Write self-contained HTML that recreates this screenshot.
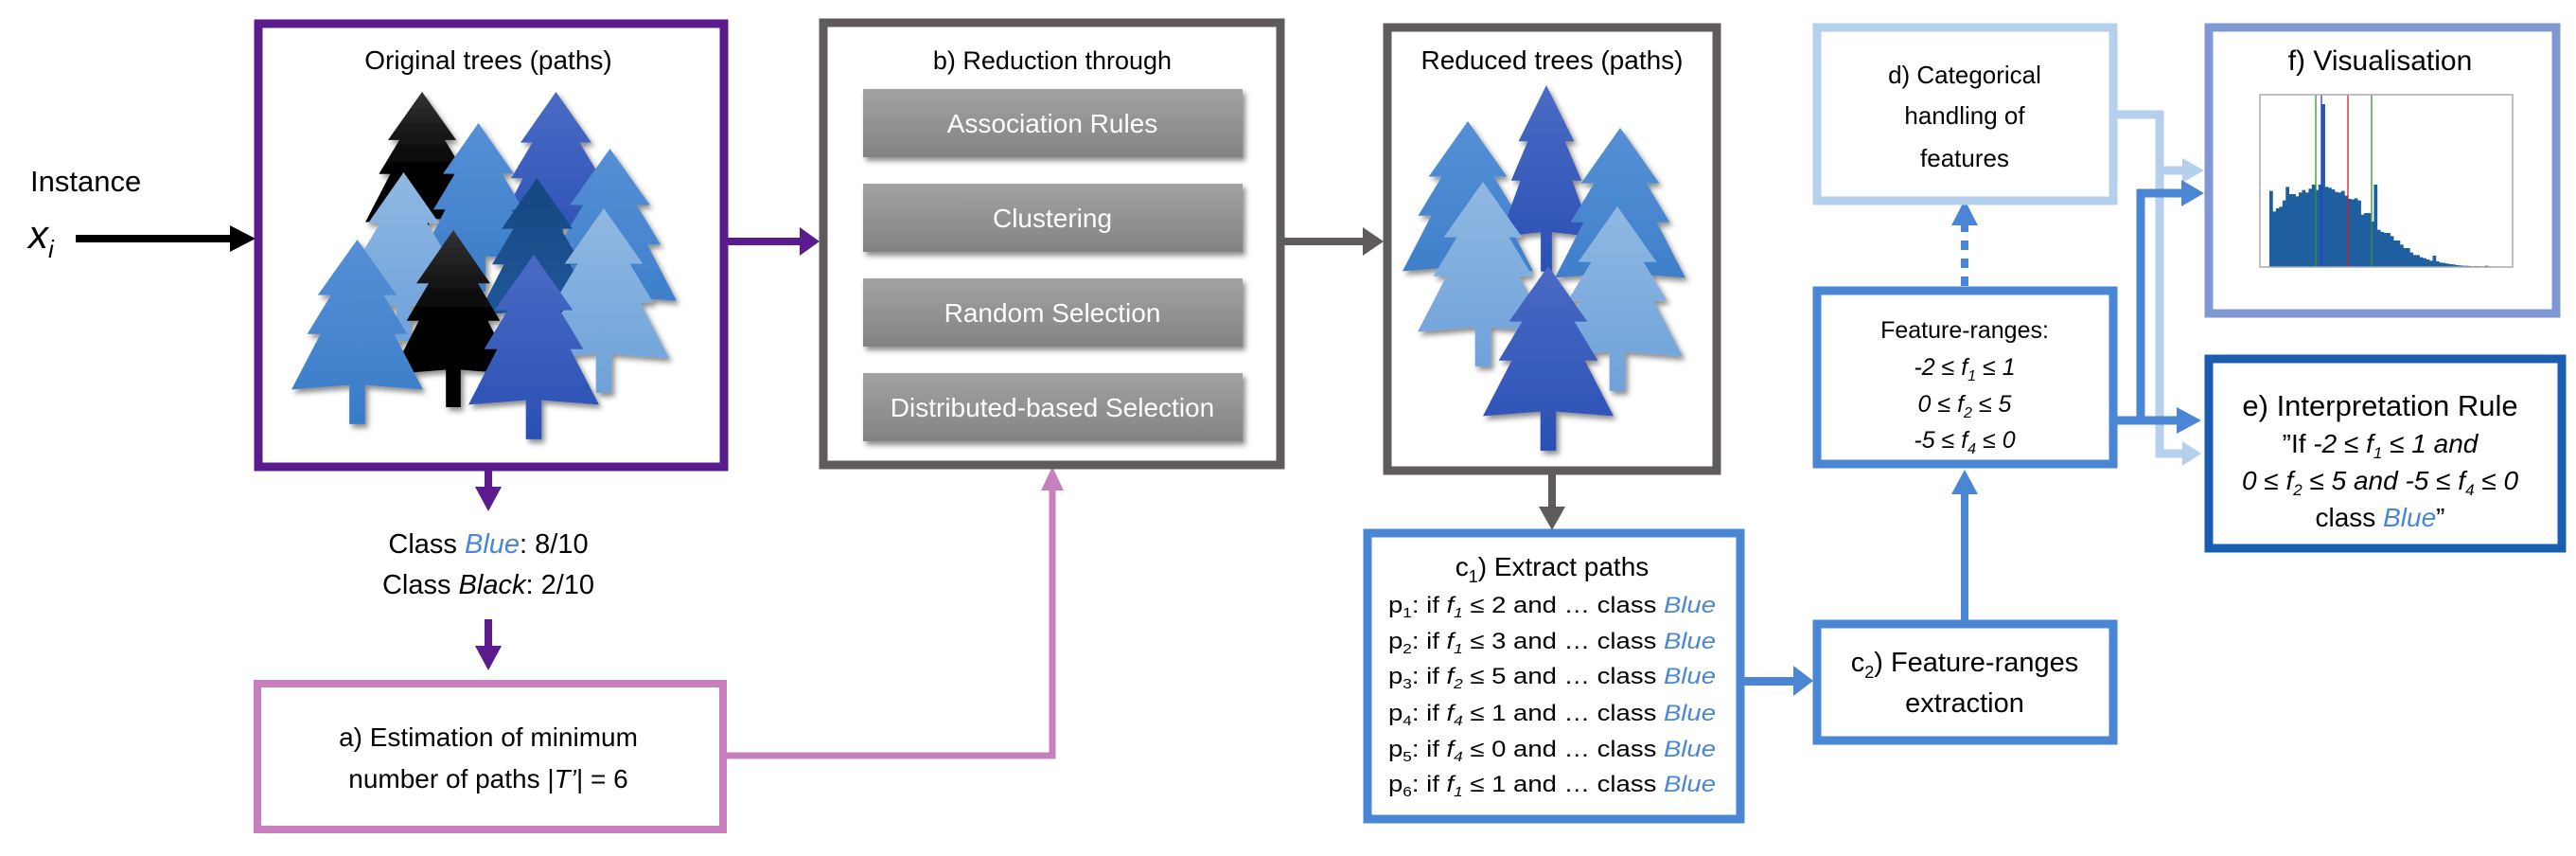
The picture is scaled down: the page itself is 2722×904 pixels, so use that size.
<!DOCTYPE html>
<html><head><meta charset="utf-8"><style>
html,body{margin:0;padding:0;background:#fff;}
svg{display:block;font-family:"Liberation Sans",sans-serif;}
</style></head><body>
<svg id="s" width="2722" height="904" viewBox="0 0 2722 904" xmlns="http://www.w3.org/2000/svg">
<defs>
<symbol id="tree" viewBox="0 0 100 125" preserveAspectRatio="none">
<polygon points="50,0 20,37 30,37 12,63 22,63 0,100 44,97 44,123 56,123 56,97 100,100 78,63 88,63 70,37 80,37"/>
</symbol>
<linearGradient id="gBlack" x1="0" y1="0" x2="0" y2="1"><stop offset="0" stop-color="#333"/><stop offset=".5" stop-color="#000"/></linearGradient>
<linearGradient id="gBlue" x1="0" y1="0" x2="0" y2="1"><stop offset="0" stop-color="#5590d6"/><stop offset="1" stop-color="#3a7cc8"/></linearGradient>
<linearGradient id="gRoyal" x1="0" y1="0" x2="0" y2="1"><stop offset="0" stop-color="#4a6ac4"/><stop offset="1" stop-color="#2a50b4"/></linearGradient>
<linearGradient id="gLight" x1="0" y1="0" x2="0" y2="1"><stop offset="0" stop-color="#90b8e2"/><stop offset="1" stop-color="#6ea2da"/></linearGradient>
<linearGradient id="gNavy" x1="0" y1="0" x2="0" y2="1"><stop offset="0" stop-color="#174782"/><stop offset="1" stop-color="#1f5a9e"/></linearGradient>
<linearGradient id="gBtn" x1="0" y1="0" x2="0" y2="1"><stop offset="0" stop-color="#a2a2a2"/><stop offset="1" stop-color="#838383"/></linearGradient>
<filter id="sh" x="-10%" y="-10%" width="130%" height="130%"><feDropShadow dx="3" dy="4" stdDeviation="3" flood-opacity=".45"/></filter>
</defs>

<!-- Instance -->
<text x="32" y="202" font-size="31">Instance</text>
<text x="30" y="262" font-size="42" font-style="italic">x<tspan font-size="26" dy="10">i</tspan></text>
<rect x="80" y="248" width="165" height="8" fill="#000"/>
<polygon points="243,238 270,252 243,266" fill="#000"/>

<!-- Original trees box -->
<rect x="273" y="25" width="492" height="468" fill="#fff" stroke="#5b1a8e" stroke-width="9"/>
<text x="516" y="73" font-size="28" text-anchor="middle">Original trees (paths)</text>
<g filter="url(#sh)">
<use href="#tree" x="386" y="97" width="120" height="172" fill="url(#gBlack)"/>
<use href="#tree" x="525" y="97" width="125" height="181" fill="url(#gRoyal)"/>
<use href="#tree" x="443" y="130" width="125" height="181" fill="url(#gBlue)"/>
<use href="#tree" x="574" y="157" width="141" height="201" fill="url(#gBlue)"/>
<use href="#tree" x="364" y="182" width="125" height="181" fill="url(#gLight)"/>
<use href="#tree" x="505" y="188" width="125" height="181" fill="url(#gNavy)"/>
<use href="#tree" x="569" y="220" width="138" height="198" fill="url(#gLight)"/>
<use href="#tree" x="414" y="243" width="130" height="190" fill="url(#gBlack)"/>
<use href="#tree" x="308" y="253" width="139" height="198" fill="url(#gBlue)"/>
<use href="#tree" x="495" y="269" width="138" height="198" fill="url(#gRoyal)"/>
</g>

<!-- purple arrows -->
<rect x="765" y="251" width="82" height="8" fill="#5b1a8e"/>
<polygon points="845,240 866,255 845,270" fill="#5b1a8e"/>
<rect x="512" y="493" width="8" height="27" fill="#5b1a8e"/>
<polygon points="502,514 530,514 516,540" fill="#5b1a8e"/>
<text x="516" y="584" font-size="29" text-anchor="middle">Class <tspan fill="#4a86d4" font-style="italic">Blue</tspan>: 8/10</text>
<text x="516" y="627" font-size="29" text-anchor="middle">Class <tspan font-style="italic">Black</tspan>: 2/10</text>
<rect x="512" y="654" width="8" height="32" fill="#5b1a8e"/>
<polygon points="502,682 530,682 516,708" fill="#5b1a8e"/>

<!-- a box -->
<rect x="272" y="722" width="492" height="154" fill="#fff" stroke="#c87fbd" stroke-width="8"/>
<text x="516" y="788" font-size="28" text-anchor="middle">a) Estimation of minimum</text>
<text x="516" y="832" font-size="28" text-anchor="middle">number of paths |<tspan font-style="italic">T’</tspan>| = 6</text>
<polyline points="768,798 1112,798 1112,515" fill="none" stroke="#c87fbd" stroke-width="7"/>
<polygon points="1100,518 1124,518 1112,493" fill="#c87fbd"/>

<!-- b box -->
<rect x="870" y="24" width="483" height="467" fill="#fff" stroke="#5f5b5b" stroke-width="9"/>
<text x="1112" y="73" font-size="27" text-anchor="middle">b) Reduction through</text>
<g filter="url(#sh)">
<rect x="912" y="94" width="401" height="72" fill="url(#gBtn)"/>
<rect x="912" y="194" width="401" height="72" fill="url(#gBtn)"/>
<rect x="912" y="294" width="401" height="72" fill="url(#gBtn)"/>
<rect x="912" y="394" width="401" height="72" fill="url(#gBtn)"/>
</g>
<g fill="#fff" font-size="28" text-anchor="middle">
<text x="1112" y="140">Association Rules</text>
<text x="1112" y="240">Clustering</text>
<text x="1112" y="340">Random Selection</text>
<text x="1112" y="440">Distributed-based Selection</text>
</g>
<rect x="1357" y="251" width="85" height="8" fill="#5f5b5b"/>
<polygon points="1440,240 1462,255 1440,270" fill="#5f5b5b"/>

<!-- Reduced trees box -->
<rect x="1466" y="29" width="348" height="468" fill="#fff" stroke="#5f5b5b" stroke-width="9"/>
<text x="1640" y="73" font-size="28" text-anchor="middle">Reduced trees (paths)</text>
<g filter="url(#sh)">
<use href="#tree" x="1482" y="128" width="138" height="198" fill="url(#gBlue)"/>
<use href="#tree" x="1585" y="90" width="98" height="200" fill="url(#gRoyal)"/>
<use href="#tree" x="1643" y="135" width="138" height="198" fill="url(#gBlue)"/>
<use href="#tree" x="1498" y="192" width="138" height="198" fill="url(#gLight)"/>
<use href="#tree" x="1640" y="218" width="138" height="198" fill="url(#gLight)"/>
<use href="#tree" x="1567" y="281" width="138" height="198" fill="url(#gRoyal)"/>
</g>
<rect x="1636" y="497" width="8" height="42" fill="#5f5b5b"/>
<polygon points="1626,535 1654,535 1640,560" fill="#5f5b5b"/>

<!-- c1 box -->
<rect x="1445" y="563" width="394" height="302" fill="#fff" stroke="#4a86d4" stroke-width="9"/>
<text x="1640" y="608" font-size="28" text-anchor="middle">c<tspan font-size="18" dy="7">1</tspan><tspan dy="-7">) Extract paths</tspan></text>
<g font-size="24">
<text x="1467" y="647" textLength="346" lengthAdjust="spacingAndGlyphs">p<tspan font-size="15" dy="5">1</tspan><tspan dy="-5">: if </tspan><tspan font-style="italic">f</tspan><tspan font-size="15" dy="5" font-style="italic">1</tspan><tspan dy="-5"> ≤ 2 and … class </tspan><tspan fill="#4a86d4" font-style="italic">Blue</tspan></text>
<text x="1467" y="685" textLength="346" lengthAdjust="spacingAndGlyphs">p<tspan font-size="15" dy="5">2</tspan><tspan dy="-5">: if </tspan><tspan font-style="italic">f</tspan><tspan font-size="15" dy="5" font-style="italic">1</tspan><tspan dy="-5"> ≤ 3 and … class </tspan><tspan fill="#4a86d4" font-style="italic">Blue</tspan></text>
<text x="1467" y="722" textLength="346" lengthAdjust="spacingAndGlyphs">p<tspan font-size="15" dy="5">3</tspan><tspan dy="-5">: if </tspan><tspan font-style="italic">f</tspan><tspan font-size="15" dy="5" font-style="italic">2</tspan><tspan dy="-5"> ≤ 5 and … class </tspan><tspan fill="#4a86d4" font-style="italic">Blue</tspan></text>
<text x="1467" y="761" textLength="346" lengthAdjust="spacingAndGlyphs">p<tspan font-size="15" dy="5">4</tspan><tspan dy="-5">: if </tspan><tspan font-style="italic">f</tspan><tspan font-size="15" dy="5" font-style="italic">4</tspan><tspan dy="-5"> ≤ 1 and … class </tspan><tspan fill="#4a86d4" font-style="italic">Blue</tspan></text>
<text x="1467" y="799" textLength="346" lengthAdjust="spacingAndGlyphs">p<tspan font-size="15" dy="5">5</tspan><tspan dy="-5">: if </tspan><tspan font-style="italic">f</tspan><tspan font-size="15" dy="5" font-style="italic">4</tspan><tspan dy="-5"> ≤ 0 and … class </tspan><tspan fill="#4a86d4" font-style="italic">Blue</tspan></text>
<text x="1467" y="836" textLength="346" lengthAdjust="spacingAndGlyphs">p<tspan font-size="15" dy="5">6</tspan><tspan dy="-5">: if </tspan><tspan font-style="italic">f</tspan><tspan font-size="15" dy="5" font-style="italic">1</tspan><tspan dy="-5"> ≤ 1 and … class </tspan><tspan fill="#4a86d4" font-style="italic">Blue</tspan></text>
</g>
<rect x="1843" y="715" width="55" height="9" fill="#4a86d4"/>
<polygon points="1895,703 1916,719 1895,735" fill="#4a86d4"/>

<!-- c2 box -->
<rect x="1920" y="659" width="313" height="123" fill="#fff" stroke="#4a86d4" stroke-width="9"/>
<text x="2076" y="709" font-size="29" text-anchor="middle">c<tspan font-size="18" dy="7">2</tspan><tspan dy="-7">) Feature-ranges</tspan></text>
<text x="2076" y="752" font-size="29" text-anchor="middle">extraction</text>
<rect x="2072" y="518" width="8" height="141" fill="#4a86d4"/>
<polygon points="2062,522 2090,522 2076,496" fill="#4a86d4"/>

<!-- Feature ranges box -->
<rect x="1920" y="307" width="313" height="183" fill="#fff" stroke="#4a86d4" stroke-width="9"/>
<text x="2076" y="357" font-size="25" text-anchor="middle">Feature-ranges:</text>
<g font-size="25" font-style="italic" text-anchor="middle">
<text x="2076" y="396">-2 ≤ f<tspan font-size="16" dy="6">1</tspan><tspan dy="-6"> ≤ 1</tspan></text>
<text x="2076" y="435">0 ≤ f<tspan font-size="16" dy="6">2</tspan><tspan dy="-6"> ≤ 5</tspan></text>
<text x="2076" y="473">-5 ≤ f<tspan font-size="16" dy="6">4</tspan><tspan dy="-6"> ≤ 0</tspan></text>
</g>
<!-- dashed arrow -->
<line x1="2076" y1="302" x2="2076" y2="238" stroke="#4a86d4" stroke-width="8" stroke-dasharray="10,9"/>
<polygon points="2062,238 2090,238 2076,211" fill="#4a86d4"/>

<!-- d box -->
<rect x="1920" y="29" width="313" height="183" fill="#fff" stroke="#b4d0ec" stroke-width="9"/>
<g font-size="26" text-anchor="middle">
<text x="2076" y="88">d) Categorical</text>
<text x="2076" y="131">handling of</text>
<text x="2076" y="176">features</text>
</g>

<!-- light connectors -->
<polyline points="2237,121 2282,121 2282,479 2310,479" fill="none" stroke="#b4d0ec" stroke-width="9"/>
<line x1="2282" y1="180" x2="2310" y2="180" stroke="#b4d0ec" stroke-width="9"/>
<polygon points="2306,167 2329,180 2306,193" fill="#b4d0ec"/>
<polygon points="2306,466 2326,479 2306,492" fill="#b4d0ec"/>
<!-- medium connectors -->
<polyline points="2237,444 2310,444" fill="none" stroke="#4a86d4" stroke-width="9"/>
<polyline points="2262,444 2262,204 2310,204" fill="none" stroke="#4a86d4" stroke-width="9"/>
<polygon points="2305,190 2329,204 2305,218" fill="#4a86d4"/>
<polygon points="2300,430 2326,444 2300,458" fill="#4a86d4"/>

<!-- f box -->
<rect x="2334" y="29" width="367" height="302" fill="#fff" stroke="#7f97d2" stroke-width="9"/>
<text x="2515" y="74" font-size="30" text-anchor="middle">f) Visualisation</text>
<g id="hist"></g>
<rect x="2388" y="100" width="267" height="182" fill="none" stroke="#aaa" stroke-width="1.5"/>

<!-- e box -->
<rect x="2334" y="379" width="373" height="200" fill="#fff" stroke="#1a5cb0" stroke-width="9"/>
<text x="2515" y="439" font-size="31" text-anchor="middle">e) Interpretation Rule</text>
<g font-size="28" text-anchor="middle">
<text x="2515" y="478">”If <tspan font-style="italic">-2 ≤ f</tspan><tspan font-size="17" dy="6" font-style="italic">1</tspan><tspan dy="-6" font-style="italic"> ≤ 1 and</tspan></text>
<text x="2515" y="517" font-style="italic">0 ≤ f<tspan font-size="17" dy="6">2</tspan><tspan dy="-6"> ≤ 5 and -5 ≤ f</tspan><tspan font-size="17" dy="6">4</tspan><tspan dy="-6"> ≤ 0</tspan></text>
<text x="2515" y="556">class <tspan fill="#4a86d4" font-style="italic">Blue</tspan>”</text>
</g>
</svg>
<script>
(function(){
var tops=[335,400,390,385,365,322,345,345,352,340,332,340,328,315,332,315,60,322,325,330,338,340,335,350,360,362,358,365,410,405,405,432,315,458,465,468,468,478,492,492,505,516,516,530,538,538,545,548,552,556,540,558,562,563,565,567,568,570,571,572,572,573,574,573,574,574,572,574];
var g=document.getElementById('hist'),x0=2398,w=3.45,s='';
for(var i=0;i<tops.length;i++){var y=90+tops[i]/3;s+='<rect x="'+(x0+i*w)+'" y="'+y+'" width="'+(w+0.3)+'" height="'+(282-y)+'" fill="#1f5fa0"/>';}
s+='<line x1="2447" y1="100" x2="2447" y2="282" stroke="#2a9a2a" stroke-width="1.3"/>';
s+='<line x1="2453" y1="100" x2="2453" y2="282" stroke="#3030e0" stroke-width="1.3"/>';
s+='<line x1="2481" y1="100" x2="2481" y2="282" stroke="#d02020" stroke-width="1.3"/>';
s+='<line x1="2506" y1="100" x2="2506" y2="282" stroke="#2a9a2a" stroke-width="1.3"/>';
g.innerHTML=s;
})();
</script>
</body></html>
